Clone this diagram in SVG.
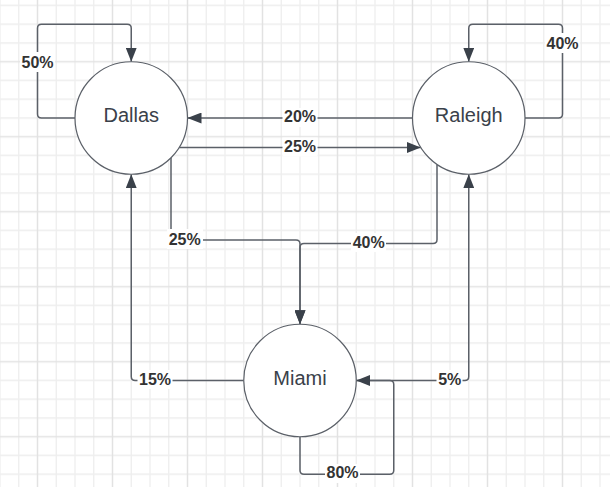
<svg xmlns="http://www.w3.org/2000/svg" width="610" height="487" viewBox="0 0 610 487">
<style>
.node{fill:#ffffff;stroke:#5b6068;stroke-width:1.2}
.ntxt{font-family:"Liberation Sans",Arial,sans-serif;font-size:20px;fill:#3a414a;text-anchor:middle}
.edge{fill:none;stroke:#5b6068;stroke-width:1.5}
.lbl{font-family:"Liberation Sans",Arial,sans-serif;font-size:16px;font-weight:bold;fill:#333333;text-anchor:middle}
.lbg{fill:#ffffff}
.minor{stroke:#eeeeee;stroke-width:1.3}
.major{stroke:#e2e2e2;stroke-width:1.5}
</style>
<defs>
<pattern id="grid" patternUnits="userSpaceOnUse" x="0" y="24.25" width="75" height="75">
<line class="minor" x1="0" y1="0" x2="0" y2="75"/>
<line class="minor" x1="75" y1="0" x2="75" y2="75"/>
<line class="minor" x1="18.75" y1="0" x2="18.75" y2="75"/>
<line class="minor" x1="56.25" y1="0" x2="56.25" y2="75"/>
<line class="minor" x1="0" y1="0" x2="75" y2="0"/>
<line class="minor" x1="0" y1="75" x2="75" y2="75"/>
<line class="minor" x1="0" y1="18.75" x2="75" y2="18.75"/>
<line class="minor" x1="0" y1="56.25" x2="75" y2="56.25"/>
<line class="major" x1="37.5" y1="0" x2="37.5" y2="75"/>
<line class="major" x1="0" y1="37.5" x2="75" y2="37.5"/>
</pattern>
<marker id="arr" markerUnits="userSpaceOnUse" markerWidth="14" markerHeight="11" refX="14" refY="5.5" orient="auto">
<path d="M0,0 L14,5.5 L0,11 z" fill="#3a414a"/>
</marker>
</defs>
<rect x="0" y="0" width="610" height="487" fill="#ffffff"/>
<rect x="0" y="0" width="610" height="487" fill="url(#grid)"/>

<g id="connectors">
<path class="edge" marker-end="url(#arr)" d="M75,118 H41.5 Q37.5,118 37.5,114 V28.25 Q37.5,24.25 41.5,24.25 H127.25 Q131.25,24.25 131.25,28.25 V61.75"/>
<path class="edge" marker-end="url(#arr)" d="M525,118 H558.5 Q562.5,118 562.5,114 V28.25 Q562.5,24.25 558.5,24.25 H472.75 Q468.75,24.25 468.75,28.25 V61.75"/>
<path class="edge" marker-end="url(#arr)" d="M412.5,118 H187.5"/>
<path class="edge" marker-end="url(#arr)" d="M179.2,147.5 H420.8"/>
<path class="edge" marker-end="url(#arr)" d="M171,157.8 V236 Q171,240 175,240 H296 Q300,240 300,244 V324.25"/>
<path class="edge" marker-end="url(#arr)" d="M437,164.4 V239.5 Q437,243.5 433,243.5 H304 Q300,243.5 300,247.5 V324.25"/>
<path class="edge" marker-end="url(#arr)" d="M243.75,380.5 H135.25 Q131.25,380.5 131.25,376.5 V174.25"/>
<path class="edge" marker-end="url(#arr)" d="M356.25,380.5 H464.75 Q468.75,380.5 468.75,376.5 V174.25"/>
<path class="edge" marker-end="url(#arr)" d="M300,436.75 V470.25 Q300,474.25 304,474.25 H389.75 Q393.75,474.25 393.75,470.25 V384.5 Q393.75,380.5 389.75,380.5 H356.25"/>

<rect class="lbg" x="20" y="52" width="35" height="20"/>
<text class="lbl" x="37.5" y="68.4">50%</text>
<rect class="lbg" x="545" y="33" width="35" height="20"/>
<text class="lbl" x="562.5" y="49">40%</text>
<rect class="lbg" x="282.5" y="108" width="35" height="19"/>
<text class="lbl" x="300" y="122">20%</text>
<rect class="lbg" x="282.5" y="137.5" width="35" height="19"/>
<text class="lbl" x="300" y="151.5">25%</text>
<rect class="lbg" x="167" y="229" width="36" height="20"/>
<text class="lbl" x="184.7" y="244.5">25%</text>
<rect class="lbg" x="351" y="233" width="35" height="19"/>
<text class="lbl" x="368.7" y="248">40%</text>
<rect class="lbg" x="137.5" y="370" width="35" height="19"/>
<text class="lbl" x="155" y="384.5">15%</text>
<rect class="lbg" x="436.5" y="370" width="26" height="19"/>
<text class="lbl" x="449.7" y="384.5">5%</text>
<rect class="lbg" x="325" y="464" width="35" height="19"/>
<text class="lbl" x="342.5" y="478">80%</text>
</g>

<g id="dallas">
<circle class="node" cx="131.25" cy="118" r="56.25"/>
<text class="ntxt" x="131.25" y="121.7">Dallas</text>
</g>
<g id="raleigh">
<circle class="node" cx="468.75" cy="118" r="56.25"/>
<text class="ntxt" x="468.75" y="121.7">Raleigh</text>
</g>
<g id="miami">
<circle class="node" cx="300" cy="380.5" r="56.25"/>
<text class="ntxt" x="300" y="385">Miami</text>
</g>
</svg>
